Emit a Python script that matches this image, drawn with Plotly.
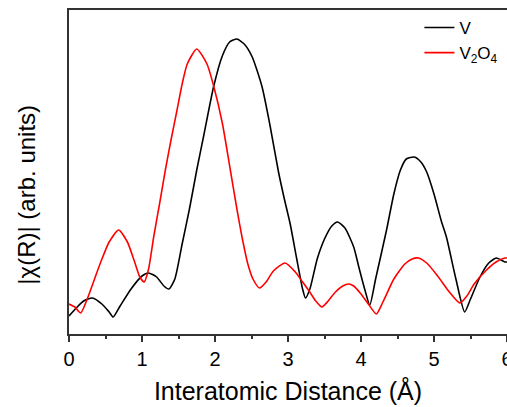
import plotly.graph_objects as go

# Black curve: V
v_x = [0.00, 0.10, 0.20, 0.32, 0.45, 0.55, 0.605, 0.70, 0.85, 1.00, 1.09, 1.20, 1.30, 1.37,
       1.45, 1.55, 1.65, 1.75, 1.85, 1.98, 2.10, 2.20, 2.30, 2.40, 2.51, 2.645, 2.75, 2.87,
       2.95, 3.03, 3.12, 3.20, 3.24, 3.30, 3.40, 3.50, 3.60, 3.68, 3.78, 3.90, 3.97, 4.05,
       4.12, 4.20, 4.35, 4.45, 4.54, 4.62, 4.73, 4.82, 4.90, 5.00, 5.10, 5.17, 5.30, 5.42,
       5.50, 5.63, 5.75, 5.855, 5.97, 6.00]
v_y = [18, 26, 33, 36, 30, 22, 17, 28, 45, 58, 61, 57, 48, 45,
       55, 90, 125, 164, 200, 247, 278, 292, 295, 290, 277, 247, 210, 162,
       135, 110, 75, 45, 36, 45, 75, 95, 108, 112, 106, 87, 67, 45,
       29, 55, 104, 140, 164, 175, 177, 172, 162, 140, 113, 97, 55, 22,
       35, 57, 71, 76, 72, 72]

# Red curve: V2O4
o_x = [0.00, 0.08, 0.16, 0.25, 0.35, 0.43, 0.55, 0.68, 0.80, 0.89, 0.97, 1.03, 1.09, 1.16,
       1.24, 1.32, 1.40, 1.48, 1.55, 1.62, 1.75, 1.89, 1.985, 2.10, 2.21, 2.30, 2.37, 2.45,
       2.52, 2.61, 2.70, 2.80, 2.96, 3.10, 3.20, 3.28, 3.38, 3.465, 3.55, 3.65, 3.75, 3.83,
       3.90, 4.00, 4.10, 4.21, 4.30, 4.45, 4.60, 4.70, 4.785, 4.90, 5.05, 5.20, 5.355, 5.45,
       5.55, 5.72, 5.85, 5.97, 6.00]
o_y = [30, 27, 21, 35, 55, 71, 92, 104, 92, 74, 57, 52, 65, 97,
       130, 164, 195, 224, 250, 270, 285, 270, 247, 211, 164, 125, 97, 70,
       55, 46, 52, 63, 71, 62, 52, 44, 33, 27, 33, 42, 48, 50,
       48, 40, 30, 20, 32, 55, 70, 75, 76, 71, 58, 43, 31, 38,
       50, 64, 72, 76, 76]

x_ticks = [0, 1, 2, 3, 4, 5, 6]
y_title = "|χ(R)| (arb. units)"
x_title = "Interatomic Distance (Å)"

fig = go.Figure()
fig.add_trace(go.Scatter(x=v_x, y=v_y, mode="lines", name="V",
                         line=dict(color="black", width=1.6, shape="spline", smoothing=0.6)))
fig.add_trace(go.Scatter(x=o_x, y=o_y, mode="lines", name="V<sub>2</sub>O<sub>4</sub>",
                         line=dict(color="#ff0000", width=1.6, shape="spline", smoothing=0.6)))

axis_color = "#333333"
fig.update_layout(
    width=507, height=407,
    margin=dict(l=69, r=0, t=10, b=73),
    paper_bgcolor="white", plot_bgcolor="white",
    font=dict(family="Liberation Sans, Arial, sans-serif", color="black"),
    showlegend=True,
    legend=dict(x=0.8, y=1.0, xanchor="left", yanchor="top",
                bgcolor="rgba(0,0,0,0)", font=dict(size=17),
                tracegroupgap=0, itemwidth=30),
    xaxis=dict(range=[0, 6], tickvals=x_ticks, ticktext=[str(t) for t in x_ticks],
               showline=True, linecolor=axis_color, linewidth=1.5, mirror=True,
               ticks="outside", ticklen=6, tickwidth=1.5, tickcolor=axis_color,
               minor=dict(dtick=0.5, ticks="outside", ticklen=3, tickwidth=1.5, tickcolor=axis_color),
               showgrid=False, zeroline=False, automargin=False,
               ticklabeloverflow="allow",
               tickfont=dict(size=20),
               title=dict(text=x_title, font=dict(size=25), standoff=14)),
    yaxis=dict(range=[0, 324], showline=True, linecolor=axis_color, linewidth=1.5, mirror=True,
               showticklabels=False, ticks="", showgrid=False, zeroline=False, automargin=False),
    annotations=[dict(text=y_title, textangle=-90, xref="paper", yref="paper",
                      x=0, y=0.43, xanchor="center", yanchor="middle", xshift=-42,
                      showarrow=False, font=dict(size=24))],
)

fig.write_html("out.html", config={"displayModeBar": False},
               post_script="document.body.style.margin='0';document.body.style.overflow='hidden';"
                           "document.documentElement.style.overflow='hidden';")
